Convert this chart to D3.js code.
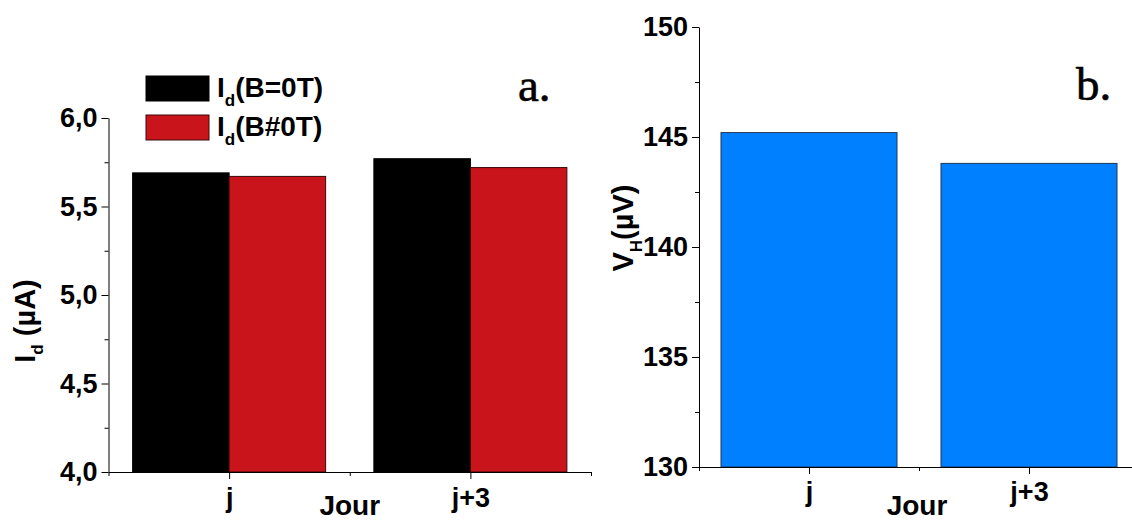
<!DOCTYPE html>
<html>
<head>
<meta charset="utf-8">
<script src="https://cdn.jsdelivr.net/npm/d3@7"></script>
<style>
  html, body { margin: 0; padding: 0; background: #fff; }
  svg { display: block; }
</style>
</head>
<body>
<svg id="chart" width="1132" height="521"></svg>
<script>
// ---- data ----
const categories = ["j", "j+3"];
const idB0 = [5.69, 5.77];      // I_d (B=0T), µA
const idB = [5.67, 5.72];       // I_d (B#0T), µA
const vH = [145.2, 143.8];      // V_H, µV
const leftYTicks = [4.0, 4.5, 5.0, 5.5, 6.0];
const leftYMinor = [4.25, 4.75, 5.25, 5.75];
const rightYTicks = [130, 135, 140, 145, 150];
const rightYMinor = [132.5, 137.5, 142.5, 147.5];
const legendLabels = ["(B=0T)", "(B#0T)"];

const FONT = "'Liberation Sans', Arial, sans-serif";
const SERIF = "'Liberation Serif', 'Times New Roman', serif";
const TICKFS = 27;
const svg = d3.select("#chart");

// ---- scales ----
const xL = d3.scaleLinear().domain([0.5, 2.5]).range([108.5, 591]);
const yL = d3.scaleLinear().domain([4, 6]).range([472, 118]);
const xR = d3.scaleLinear().domain([0.5, 2.5]).range([699, 1139]);
const yR = d3.scaleLinear().domain([130, 150]).range([467, 27]);

const pos = categories.map((c, i) => i + 1);

function styleAxis(g, size) {
  g.selectAll("path, line").attr("stroke", "#000").attr("stroke-width", 1);
  g.selectAll("text").attr("font-size", size).attr("font-family", FONT).attr("font-weight", "bold").attr("fill", "#000");
}

// ---------- LEFT PANEL ----------
const gL = svg.append("g");
const bw = xL(1.4) - xL(1);
gL.selectAll("rect.b0").data(idB0).enter().append("rect")
  .attr("x", (d, i) => xL(pos[i] - 0.4)).attr("width", bw)
  .attr("y", d => yL(d)).attr("height", d => yL(4) - yL(d))
  .attr("fill", "#000").attr("stroke", "#000").attr("stroke-width", 1);
gL.selectAll("rect.b1").data(idB).enter().append("rect")
  .attr("x", (d, i) => xL(pos[i])).attr("width", bw)
  .attr("y", d => yL(d)).attr("height", d => yL(4) - yL(d))
  .attr("fill", "#C8141A").attr("stroke", "#3a0808").attr("stroke-width", 1);

// y axis
const yAxL = gL.append("g").attr("transform", `translate(${xL(0.5)},0)`)
  .call(d3.axisLeft(yL).tickValues(leftYTicks).tickSize(7).tickSizeOuter(0).tickPadding(4)
    .tickFormat(d => d3.format(".1f")(d).replace(".", ",")));
styleAxis(yAxL, TICKFS);
const yAxLm = gL.append("g").attr("transform", `translate(${xL(0.5)},0)`)
  .call(d3.axisLeft(yL).tickValues(leftYMinor).tickSize(4).tickSizeOuter(0).tickFormat(""));
styleAxis(yAxLm, TICKFS);
yAxLm.select("path").remove();

// x axis
const xAxL = gL.append("g").attr("transform", `translate(0,${yL(4)})`)
  .call(d3.axisBottom(xL).tickValues(pos).tickSize(7).tickSizeOuter(0).tickPadding(9)
    .tickFormat((d, i) => categories[i]));
styleAxis(xAxL, TICKFS);
const xAxLm = gL.append("g").attr("transform", `translate(0,${yL(4)})`)
  .call(d3.axisBottom(xL).tickValues([0.5, 1.5, 2.5]).tickSize(4).tickSizeOuter(0).tickFormat(""));
styleAxis(xAxLm, TICKFS);
xAxLm.select("path").remove();

gL.append("text").attr("x", xL(1.5)).attr("y", 515).attr("text-anchor", "middle")
  .attr("font-family", FONT).attr("font-weight", "bold").attr("font-size", 28).text("Jour");

// y label
const ylabL = gL.append("text").attr("transform", "translate(35,321) rotate(-90)")
  .attr("text-anchor", "middle").attr("font-family", FONT).attr("font-weight", "bold").attr("font-size", 29);
ylabL.append("tspan").text("I");
ylabL.append("tspan").attr("font-size", 17).attr("dy", 8).text("d");
ylabL.append("tspan").attr("dy", -8).text(" (\u00B5A)");

// legend
const legColors = [["#000", "#000"], ["#C8141A", "#3a0808"]];
const legY = [76, 115];
legendLabels.forEach((lab, i) => {
  gL.append("rect").attr("x", 146).attr("y", legY[i]).attr("width", 63).attr("height", 25)
    .attr("fill", legColors[i][0]).attr("stroke", legColors[i][1]).attr("stroke-width", 1);
  const t = gL.append("text").attr("x", 217).attr("y", legY[i] + 21)
    .attr("font-family", FONT).attr("font-weight", "bold").attr("font-size", 28);
  t.append("tspan").text("I");
  t.append("tspan").attr("font-size", 17).attr("dy", 9).text("d");
  t.append("tspan").attr("dy", -9).text(lab);
});

gL.append("text").attr("x", 518).attr("y", 101)
  .attr("font-family", SERIF).attr("font-size", 47)
  .attr("stroke", "#000").attr("stroke-width", 0.6).text("a.");

// ---------- RIGHT PANEL ----------
const gR = svg.append("g");
const bwR = xR(1.4) - xR(1);
gR.selectAll("rect.v").data(vH).enter().append("rect")
  .attr("x", (d, i) => xR(pos[i]) - bwR).attr("width", 2 * bwR)
  .attr("y", d => yR(d)).attr("height", d => yR(130) - yR(d))
  .attr("fill", "#0080FF").attr("stroke", "#1d3558").attr("stroke-width", 1);

const yAxR = gR.append("g").attr("transform", `translate(${xR(0.5)},0)`)
  .call(d3.axisLeft(yR).tickValues(rightYTicks).tickSize(7).tickSizeOuter(0).tickPadding(4)
    .tickFormat(d3.format("d")));
styleAxis(yAxR, TICKFS);
const yAxRm = gR.append("g").attr("transform", `translate(${xR(0.5)},0)`)
  .call(d3.axisLeft(yR).tickValues(rightYMinor).tickSize(4).tickSizeOuter(0).tickFormat(""));
styleAxis(yAxRm, TICKFS);
yAxRm.select("path").remove();

const xAxR = gR.append("g").attr("transform", `translate(0,${yR(130)})`)
  .call(d3.axisBottom(xR).tickValues(pos).tickSize(7).tickSizeOuter(0).tickPadding(8)
    .tickFormat((d, i) => categories[i]));
styleAxis(xAxR, TICKFS);
const xAxRm = gR.append("g").attr("transform", `translate(0,${yR(130)})`)
  .call(d3.axisBottom(xR).tickValues([0.5, 1.5, 2.5]).tickSize(4).tickSizeOuter(0).tickFormat(""));
styleAxis(xAxRm, TICKFS);
xAxRm.select("path").remove();

gR.append("text").attr("x", xR(1.5) - 2).attr("y", 515).attr("text-anchor", "middle")
  .attr("font-family", FONT).attr("font-weight", "bold").attr("font-size", 28).text("Jour");

const ylabR = gR.append("text").attr("transform", "translate(633,228) rotate(-90)")
  .attr("text-anchor", "middle").attr("font-family", FONT).attr("font-weight", "bold").attr("font-size", 29);
ylabR.append("tspan").text("V");
ylabR.append("tspan").attr("font-size", 17).attr("dy", 9).text("H");
ylabR.append("tspan").attr("dy", -9).text("(\u00B5V)");

gR.append("text").attr("x", 1076).attr("y", 100)
  .attr("font-family", SERIF).attr("font-size", 47)
  .attr("stroke", "#000").attr("stroke-width", 0.6).text("b.");
</script>
</body>
</html>
